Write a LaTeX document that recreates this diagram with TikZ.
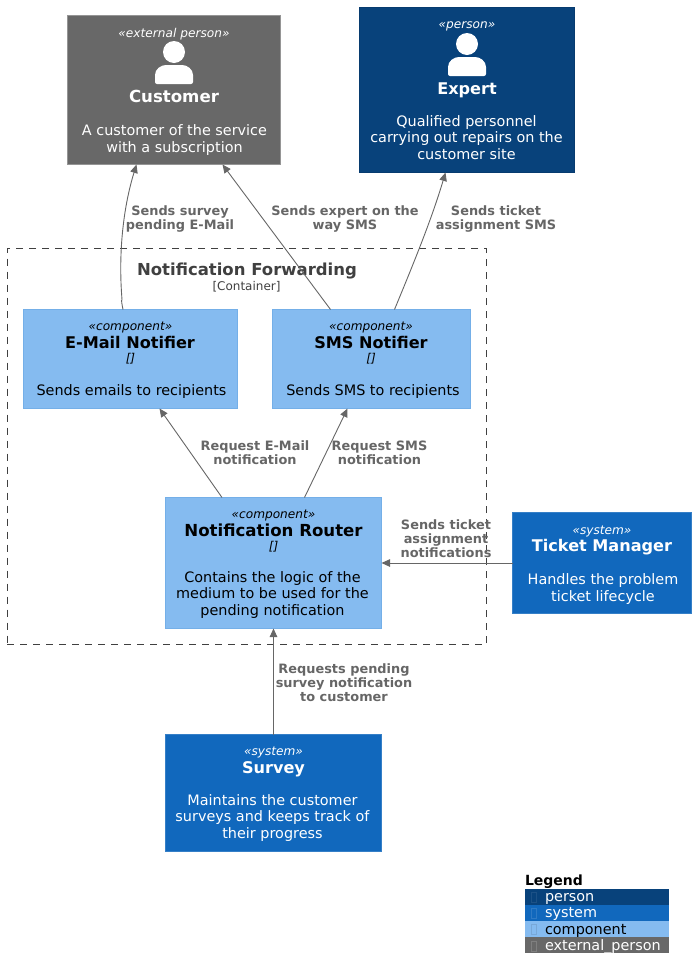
\documentclass[tikz,border=0pt]{standalone}
\usepackage{fontspec}
\setmainfont{DejaVu Sans}
\usetikzlibrary{arrows.meta}
\definecolor{personC}{HTML}{08427B}
\definecolor{systemC}{HTML}{1168BD}
\definecolor{compC}{HTML}{85BBF0}
\definecolor{extC}{HTML}{686868}
\definecolor{edgeC}{HTML}{666666}
\tikzset{
  x=1pt,y=-1pt,
  every node/.style={inner sep=0pt,outer sep=0pt},
  cbox/.style={draw,line width=1pt,anchor=north west},
  personbox/.style={cbox,fill=personC,draw=personC!90!black},
  systembox/.style={cbox,fill=systemC,draw=systemC!85!white},
  compbox/.style={cbox,fill=compC,draw=compC!85!systemC},
  extbox/.style={cbox,fill=extC,draw=extC!70!white},
  stereo/.style={anchor=base,font=\fontsize{12.15}{14}\itshape\selectfont},
  nametxt/.style={anchor=base,font=\fontsize{16.1}{18}\bfseries\selectfont},
  bigname/.style={anchor=base,font=\fontsize{16.6}{18}\bfseries\selectfont},
  desctxt/.style={anchor=base,align=center,font=\fontsize{14.4}{16.2}\selectfont},
  linktxt/.style={anchor=base,align=center,text=edgeC,font=\fontsize{12.9}{14}\bfseries\selectfont},
  rel/.style={draw=edgeC,line width=.9pt,-{Triangle[length=8.5pt,width=7.5pt,fill=edgeC]}},
  legrow/.style={anchor=north west,minimum width=144pt,minimum height=15.5pt},
  legtxt/.style={anchor=base west,font=\fontsize{14.4}{16}\selectfont},
  tofu/.style={anchor=north west,draw,line width=.6pt,minimum width=5pt,minimum height=10pt},
}
\newcommand{\personicon}[2]{%
  \fill[white] (#1,#2) circle[radius=11];
  \fill[white,rounded corners=2pt] (#1-19,#2+32)
    -- (#1-19,#2+25)
    .. controls (#1-19,#2+17) and (#1-13,#2+13) .. (#1-6,#2+13)
    -- (#1+6,#2+13)
    .. controls (#1+13,#2+13) and (#1+19,#2+17) .. (#1+19,#2+25)
    -- (#1+19,#2+32)
    -- cycle;}
\begin{document}
\begin{tikzpicture}
\useasboundingbox (0,0) rectangle (696,975);
% container
\node[draw=black!75,line width=.7pt,dash pattern=on 7pt off 6pt,anchor=north west,minimum width=479.5pt,minimum height=396pt] (container) at (7,248.5) {};
\node[anchor=base,text=black!75,font=\fontsize{16.5}{18}\bfseries\selectfont] (ctitle) at (247,275) {Notification Forwarding};
\node[anchor=base,text=black!75,font=\fontsize{12}{14}\selectfont] (ctype) at (246.5,290) {[Container]};
% customer
\node[extbox,minimum width=213pt,minimum height=149pt] (customer) at (67.5,15.5) {};
\node[stereo,text=white] (customerS) at (174,37) {«external\hspace{4pt}person»};
\personicon{174}{52}
\node[bigname,text=white] (customerN) at (174,102) {Customer};
\node[desctxt,text=white] (customerD) at (174.5,152) {A customer of the service\\with a subscription};
% expert
\node[personbox,minimum width=215pt,minimum height=165pt] (expert) at (359.5,7.5) {};
\node[stereo,text=white] (expertS) at (467,28) {«person»};
\personicon{467}{44}
\node[nametxt,text=white] (expertN) at (467,94) {Expert};
\node[desctxt,text=white] (expertD) at (466.5,159) {Qualified personnel\\carrying out repairs on the\\customer site};
% email
\node[compbox,minimum width=214pt,minimum height=99pt] (email) at (23.5,309.5) {};
\node[stereo] (emailS) at (130.5,330) {«component»};
\node[nametxt] (emailN) at (130,348) {E-Mail Notifier};
\node[stereo] (emailT) at (130.5,362) {[]};
\node[desctxt] (emailD) at (131.5,395) {Sends emails to recipients};
% sms
\node[compbox,minimum width=198pt,minimum height=99pt] (sms) at (272.5,309.5) {};
\node[stereo] (smsS) at (371,330) {«component»};
\node[nametxt] (smsN) at (371,348) {SMS Notifier};
\node[stereo] (smsT) at (371,362) {[]};
\node[desctxt] (smsD) at (373,395) {Sends SMS to recipients};
% router
\node[compbox,minimum width=216pt,minimum height=131pt] (router) at (165.5,497.5) {};
\node[stereo] (routerS) at (273.5,518) {«component»};
\node[bigname] (routerN) at (273.5,536) {Notification Router};
\node[stereo] (routerT) at (273.5,550) {[]};
\node[desctxt] (routerD) at (272.5,615) {Contains the logic of the\\medium to be used for the\\pending notification};
% ticket manager
\node[systembox,minimum width=179pt,minimum height=101pt] (ticket) at (512.5,512.5) {};
\node[stereo,text=white] (ticketS) at (602,534) {«system»};
\node[nametxt,text=white] (ticketN) at (602,551) {Ticket Manager};
\node[desctxt,text=white] (ticketD) at (603,601) {Handles the problem\\ticket lifecycle};
% survey
\node[systembox,minimum width=216pt,minimum height=117pt] (survey) at (165.5,734.5) {};
\node[stereo,text=white] (surveyS) at (273.5,755) {«system»};
\node[nametxt,text=white] (surveyN) at (273.5,773) {Survey};
\node[desctxt,text=white] (surveyD) at (272.5,838) {Maintains the customer\\surveys and keeps track of\\their progress};
% connectors
\draw[rel] ([xshift=99.5pt]email.north west) .. controls +(-1,-5) and +(-1,0) .. +(-1,-10)
  .. controls (118,250) and (124,205) .. ([xshift=69pt]customer.south west);
\draw[rel] ([xshift=58pt]sms.north west) -- ([xshift=155pt]customer.south west);
\draw[rel] ([xshift=122pt]sms.north west) .. controls (415,260) and (432,218) .. ([xshift=86pt]expert.south west);
\draw[rel] ([xshift=56.5pt]router.north west) -- ([xshift=136pt]email.south west);
\draw[rel] ([xshift=139pt]router.north west) -- ([xshift=75pt]sms.south west);
\coordinate (tk) at (ticket.west |- router.east);
\draw[rel] (tk) -- (router.east);
\draw[rel] (survey.north) -- (router.south);
% connector labels
\node[linktxt] (l1) at (180,229) {Sends survey\\pending E-Mail};
\node[linktxt] (l2) at (345,229) {Sends expert on the\\way SMS};
\node[linktxt] (l3) at (496,229) {Sends ticket\\assignment SMS};
\node[linktxt] (l4) at (255,464) {Request E-Mail\\notification};
\node[linktxt] (l5) at (379.5,464) {Request SMS\\notification};
\node[linktxt] (l6) at (446,557) {Sends ticket\\assignment\\notifications};
\node[linktxt] (l7) at (344,701) {Requests pending\\survey notification\\to customer};
% legend
\node[anchor=base west,font=\fontsize{14}{16}\bfseries\selectfont] (legtitle) at (525,885) {Legend};
\node[legrow,fill=personC] (lg1) at (525,889) {};
\node[legrow,fill=systemC] (lg2) at (525,905) {};
\node[legrow,fill=compC] (lg3) at (525,921) {};
\node[legrow,fill=extC,minimum height=16pt] (lg4) at (525,937) {};
\node[tofu,draw=personC!92!white] (t1) at (531,892) {};
\node[tofu,draw=systemC!88!white] (t2) at (531,908) {};
\node[tofu,draw=compC!90!black] (t3) at (531,924) {};
\node[tofu,draw=extC!85!white] (t4) at (531,941) {};
\node[legtxt,text=white] (lt1) at (545,901) {person};
\node[legtxt,text=white] (lt2) at (545,917) {system};
\node[legtxt,text=black] (lt3) at (545,934) {component};
\node[legtxt,text=white] (lt4) at (545,950) {external\_person};
\end{tikzpicture}
\end{document}
